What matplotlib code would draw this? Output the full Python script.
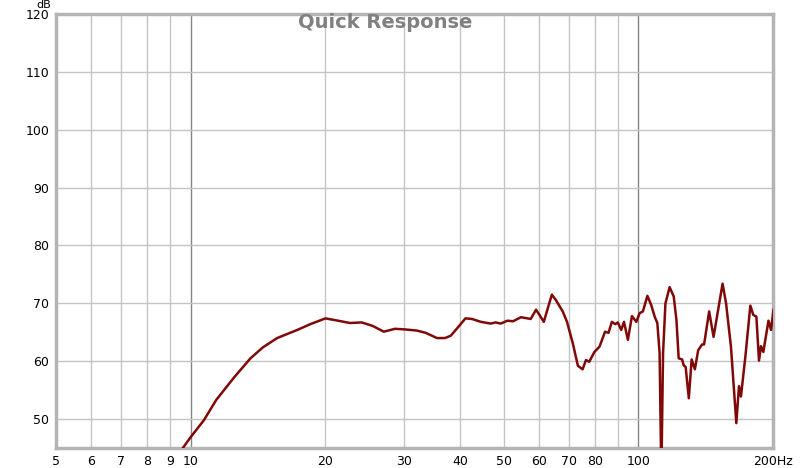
import matplotlib as mpl
mpl.use('Agg')
import matplotlib.pyplot as plt
from matplotlib.ticker import FixedLocator, NullLocator

# response (Hz, dB)
freq = [9.4, 10.0, 10.7, 11.4, 12.5, 13.6, 14.5, 15.6, 17.3, 18.5, 20.0,
        21.0, 22.7, 24.1, 25.5, 27.0, 28.6, 30.0, 32.0, 33.5, 35.5, 37.0,
        38.1, 39.5, 41.1, 42.5, 44.5, 46.8, 48.0, 49.3, 51.0, 52.5, 54.7,
        57.5, 59.1, 59.8, 61.5, 64.1, 65.4, 67.8, 69.3, 71.4, 73.3, 75.1,
        76.4, 77.7, 79.8, 81.9, 84.3, 85.8, 87.3, 88.8, 90.0, 91.6, 92.9,
        94.8, 96.8, 99.0, 100.7, 102.4, 104.8, 106.9, 108.8, 110.3, 111.6,
        112.6, 113.6, 115.0, 117.5, 120.0, 121.7, 123.1, 125.3, 126.3,
        127.6, 129.7, 131.6, 133.8, 136.1, 138.9, 140.3, 144.0, 147.3,
        154.3, 157.1, 161.1, 165.6, 167.9, 169.6, 173.5, 178.0, 180.7,
        183.6, 186.1, 188.0, 190.3, 195.4, 198.0, 200.5]
level = [44.0, 46.9, 49.8, 53.3, 57.2, 60.5, 62.4, 64.0, 65.4, 66.4, 67.4,
         67.1, 66.6, 66.7, 66.1, 65.1, 65.6, 65.5, 65.3, 64.9, 64.0, 64.0,
         64.4, 65.8, 67.4, 67.3, 66.8, 66.5, 66.7, 66.5, 67.0, 66.9, 67.6,
         67.3, 68.9, 68.3, 66.8, 71.5, 70.6, 68.6, 66.8, 63.1, 59.2, 58.6,
         60.2, 59.9, 61.6, 62.5, 65.1, 64.9, 66.8, 66.4, 66.7, 65.4, 66.8,
         63.7, 67.8, 66.8, 68.3, 68.6, 71.3, 69.7, 67.7, 66.6, 61.4,
         40.0, 61.4, 70.0, 72.8, 71.2, 67.1, 60.5, 60.3, 59.3,
         59.0, 53.6, 60.3, 58.6, 61.9, 62.9, 62.9, 68.6, 64.2,
         73.4, 70.0, 62.5, 49.3, 55.7, 53.9, 60.8, 69.6, 68.0,
         67.7, 60.1, 62.6, 61.6, 67.0, 65.4, 68.9]

x_ticks = [5, 6, 7, 8, 9, 10, 20, 30, 40, 50, 60, 70, 80, 100, 200]
x_labels = ['5', '6', '7', '8', '9', '10', '20', '30', '40', '50', '60',
            '70', '80', '100', '200Hz']
x_grid = [6, 7, 8, 9, 20, 30, 40, 50, 60, 70, 80, 90]
y_ticks = [50, 60, 70, 80, 90, 100, 110, 120]

fig = plt.figure(figsize=(8, 4.68), dpi=100)
ax = fig.add_axes([56 / 800, 20 / 468, 717 / 800, 434 / 468])
ax.set_xscale('log')
ax.set_xlim(5, 200)
ax.set_ylim(45, 120)

for g in x_grid:
    ax.axvline(g, color='#c4c4c4', lw=1, zorder=1)
for g in [10, 100]:
    ax.axvline(g, color='#858585', lw=1, zorder=1)
for g in y_ticks:
    ax.axhline(g, color='#c4c4c4', lw=1, zorder=1)

ax.plot(freq, level, color='#800808', lw=1.8, zorder=3, solid_joinstyle='round')

ax.xaxis.set_major_locator(FixedLocator(x_ticks))
ax.xaxis.set_minor_locator(NullLocator())
ax.set_xticklabels(x_labels)
ax.set_yticks(y_ticks)
ax.tick_params(length=0, labelsize=9, pad=5)
for s in ax.spines.values():
    s.set_color('#b4b4b4')
    s.set_linewidth(2.5)

fig.text(385 / 800, 1 - 22 / 468, 'Quick Response', ha='center', va='center',
         fontsize=14, fontweight='bold', color='#808080')
fig.text(44 / 800, 1 - 0.5 / 468, 'dB', ha='center', va='top', fontsize=8)

fig.savefig('out.png', dpi=100)
